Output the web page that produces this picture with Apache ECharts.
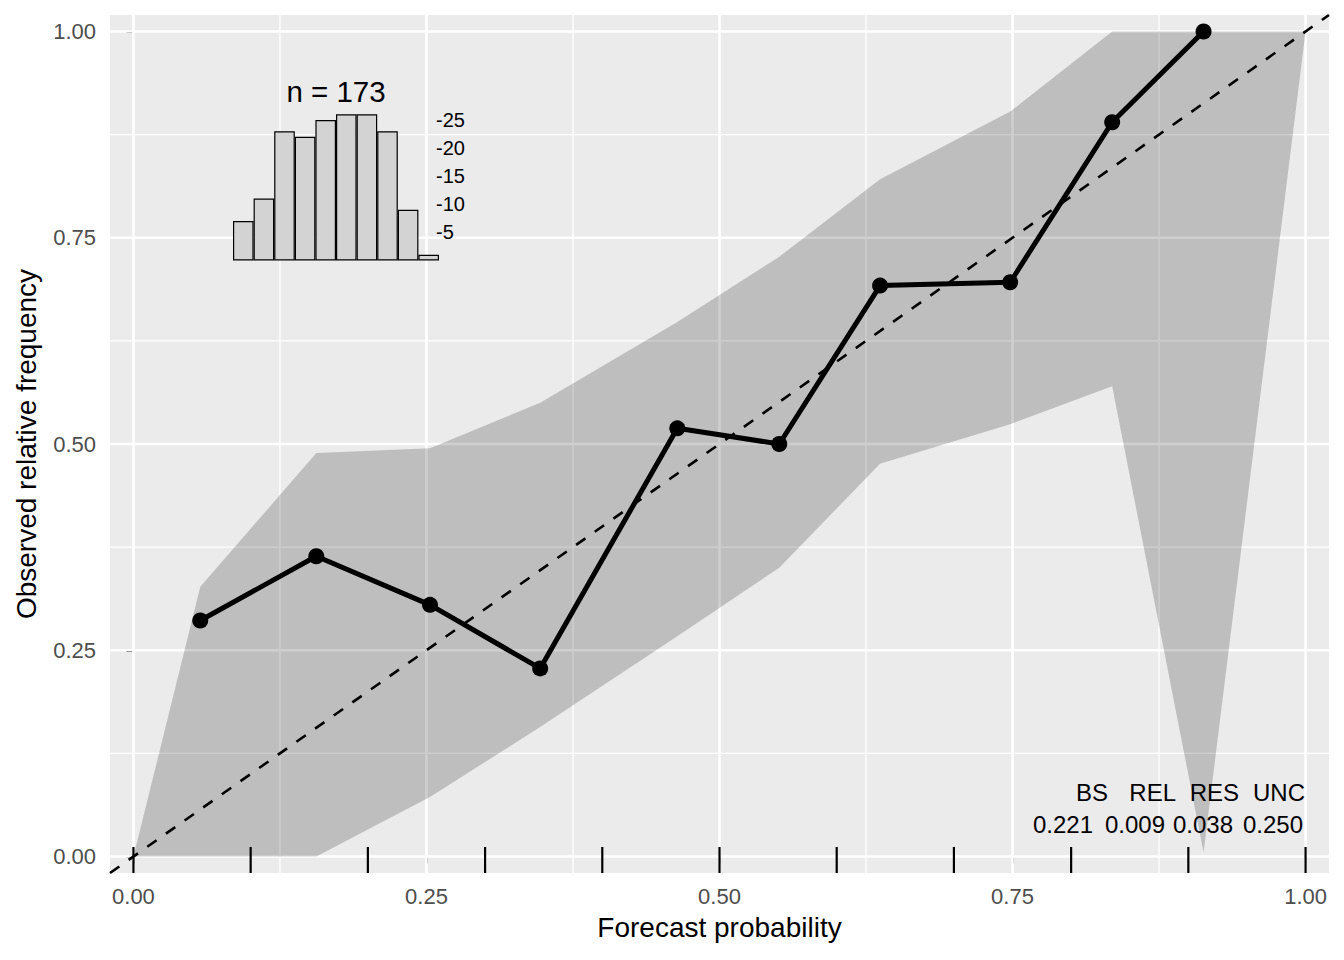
<!DOCTYPE html>
<html>
<head>
<meta charset="utf-8">
<title>Reliability diagram</title>
<script src="https://cdn.jsdelivr.net/npm/echarts@6/dist/echarts.min.js"></script>
<style>
  html, body { margin: 0; padding: 0; background: #ffffff; }
  #chart { width: 1344px; height: 960px; }
</style>
</head>
<body>
<div id="chart"></div>
<script>
// reliability points (forecast probability, observed relative frequency)
var forecastProb = [0.057, 0.156, 0.253, 0.347, 0.464, 0.551, 0.637, 0.748, 0.835, 0.913];
var observedFreq = [0.286, 0.364, 0.305, 0.228, 0.519, 0.500, 0.692, 0.696, 0.890, 1.000];

// consistency band, evaluated at the same x positions plus the ends
var bandX     = [0, 0.057, 0.156, 0.253, 0.347, 0.464, 0.551, 0.637, 0.748, 0.835, 0.913, 1.0];
var bandLower = [0, 0,     0,     0.072, 0.157, 0.267, 0.350, 0.476, 0.524, 0.570, 0.005, 1.0];
var bandUpper = [0, 0.327, 0.489, 0.495, 0.550, 0.648, 0.727, 0.821, 0.903, 1.0,   1.0,   1.0];

// bin edges shown as rug marks
var rugValues = [0, 0.1, 0.2, 0.3, 0.4, 0.5, 0.6, 0.7, 0.8, 0.9, 1.0];

// sharpness histogram
var histBins = ['0.0-0.1', '0.1-0.2', '0.2-0.3', '0.3-0.4', '0.4-0.5',
                '0.5-0.6', '0.6-0.7', '0.7-0.8', '0.8-0.9', '0.9-1.0'];
var histCounts = [7, 11, 23, 22, 25, 26, 26, 23, 9, 1];

// Brier score decomposition
var statNames = ['BS', 'REL', 'RES', 'UNC'];
var statValues = [0.221, 0.009, 0.038, 0.250];

var axisTicks = [0, 0.25, 0.5, 0.75, 1];
var minorTicks = [0.125, 0.375, 0.625, 0.875];
var diagLine = [-0.02, 1.02];

var FONT = '"Liberation Sans", Arial, Helvetica, sans-serif';

var chart = echarts.init(document.getElementById('chart'), null, {renderer: 'svg'});

var zip = function (xs, ys) {
    return xs.map(function (x, i) { return [x, ys[i]]; });
};

// grid lines: [value, direction(0 = vertical, 1 = horizontal), major]
var gridData = [];
axisTicks.forEach(function (v) { gridData.push([v, 0, 1]); gridData.push([v, 1, 1]); });
minorTicks.forEach(function (v) { gridData.push([v, 0, 0]); gridData.push([v, 1, 0]); });

var nTotal = histCounts.reduce(function (a, b) { return a + b; }, 0);

// stats table, header row and value row
var headRight = [1108, 1176, 1239, 1305];
var valueRight = [1093, 1165, 1233, 1303];
var statGraphics = [];
statNames.forEach(function (name, i) {
    statGraphics.push({
        type: 'text', x: headRight[i], y: 792, z: 100,
        style: {text: name, font: '24px ' + FONT, fill: '#000', align: 'right', verticalAlign: 'middle'}
    });
    statGraphics.push({
        type: 'text', x: valueRight[i], y: 824.5, z: 100,
        style: {text: statValues[i].toFixed(3), font: '24px ' + FONT, fill: '#000', align: 'right', verticalAlign: 'middle'}
    });
});

var option = {
    animation: false,
    textStyle: {fontFamily: FONT},
    grid: [
        {left: 110, right: 15, top: 15, bottom: 87, show: true, backgroundColor: '#EBEBEB', borderWidth: 0},
        {left: 233, top: 91.9, width: 206, height: 168.5, show: false}
    ],
    xAxis: [
        {
            type: 'value', gridIndex: 0, min: -0.02, max: 1.02,
            name: 'Forecast probability', nameLocation: 'middle', nameGap: 40,
            nameTextStyle: {fontSize: 28, color: '#000', fontFamily: FONT},
            axisLine: {show: false},
            axisTick: {show: true, customValues: axisTicks, length: 7, lineStyle: {color: '#333333', width: 2}},
            axisLabel: {customValues: axisTicks, fontSize: 22, color: '#4D4D4D', margin: 12,
                formatter: function (v) { return v.toFixed(2); }},
            splitLine: {show: false}
        },
        {
            type: 'category', gridIndex: 1, data: histBins, show: false
        }
    ],
    yAxis: [
        {
            type: 'value', gridIndex: 0, min: -0.02, max: 1.02,
            name: 'Observed relative frequency', nameLocation: 'middle', nameGap: 70,
            nameTextStyle: {fontSize: 28, color: '#000', fontFamily: FONT},
            axisLine: {show: false},
            axisTick: {show: true, customValues: axisTicks, length: 7, lineStyle: {color: '#333333', width: 2}},
            axisLabel: {customValues: axisTicks, fontSize: 22, color: '#4D4D4D', margin: 14,
                formatter: function (v) { return v.toFixed(2); }},
            splitLine: {show: false}
        },
        {
            type: 'value', gridIndex: 1, position: 'right', min: 0, max: 30, interval: 5, z: 10,
            axisLine: {show: false},
            axisTick: {show: false},
            splitLine: {show: false},
            axisLabel: {show: true, showMinLabel: false, showMaxLabel: false, margin: -3,
                fontSize: 20, color: '#000',
                formatter: function (v) { return '-' + v; }}
        }
    ],
    graphic: [
        {
            type: 'text', x: 336, y: 91, z: 100,
            style: {text: 'n = ' + nTotal, font: '29.5px ' + FONT, fill: '#000', align: 'center', verticalAlign: 'middle'}
        }
    ].concat(statGraphics),
    series: [
        {
            name: 'grid lines', type: 'custom', xAxisIndex: 0, yAxisIndex: 0, z: 1, silent: true,
            data: gridData,
            renderItem: function (params, api) {
                var v = api.value(0), dir = api.value(1), major = api.value(2);
                var cs = params.coordSys;
                var shape;
                if (dir === 0) {
                    var x = api.coord([v, 0])[0];
                    shape = {x1: x, y1: cs.y, x2: x, y2: cs.y + cs.height};
                } else {
                    var y = api.coord([0, v])[1];
                    shape = {x1: cs.x, y1: y, x2: cs.x + cs.width, y2: y};
                }
                return {
                    type: 'line', shape: shape,
                    style: {stroke: '#FFFFFF', lineWidth: major ? 2.6 : 1.3}
                };
            }
        },
        {
            // band drawn as one polygon: lower edge left to right, upper edge back
            name: 'band', type: 'custom', xAxisIndex: 0, yAxisIndex: 0, z: 2, silent: true,
            data: bandX.map(function (x, i) { return [x, bandLower[i], bandUpper[i]]; }),
            renderItem: function (params, api) {
                if (params.dataIndex !== 0) {
                    return;
                }
                var pts = [];
                var i;
                for (i = 0; i < bandX.length; i++) {
                    pts.push(api.coord([bandX[i], bandLower[i]]));
                }
                for (i = bandX.length - 1; i >= 0; i--) {
                    pts.push(api.coord([bandX[i], bandUpper[i]]));
                }
                return {
                    type: 'polygon', shape: {points: pts},
                    style: {fill: 'rgba(0,0,0,0.19)'}
                };
            }
        },
        {
            name: 'diagonal', type: 'line', xAxisIndex: 0, yAxisIndex: 0, z: 3,
            symbol: 'none', silent: true,
            lineStyle: {color: '#000', width: 2.6, type: [11.4, 11.4]},
            data: zip(diagLine, diagLine)
        },
        {
            name: 'rug', type: 'custom', xAxisIndex: 0, yAxisIndex: 0, z: 4, silent: true,
            data: rugValues.map(function (v) { return [v, 0]; }),
            renderItem: function (params, api) {
                var cs = params.coordSys;
                var x = api.coord([api.value(0), 0])[0];
                var yb = cs.y + cs.height;
                return {
                    type: 'line',
                    shape: {x1: x, y1: yb, x2: x, y2: yb - 26},
                    style: {stroke: '#000', lineWidth: 2.2}
                };
            }
        },
        {
            name: 'reliability', type: 'line', xAxisIndex: 0, yAxisIndex: 0, z: 5,
            symbol: 'circle', symbolSize: 16, showAllSymbol: true,
            lineStyle: {color: '#000', width: 5},
            itemStyle: {color: '#000'},
            data: zip(forecastProb, observedFreq)
        },
        {
            name: 'histogram', type: 'bar', xAxisIndex: 1, yAxisIndex: 1, z: 6,
            barCategoryGap: '0%', silent: true,
            itemStyle: {color: '#D3D3D3', borderColor: '#000', borderWidth: 1.2},
            data: histCounts
        }
    ]
};

chart.setOption(option);
</script>
</body>
</html>
